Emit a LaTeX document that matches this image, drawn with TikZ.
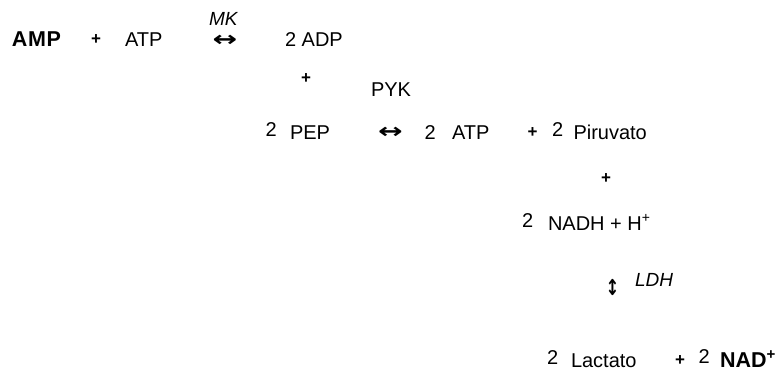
\documentclass[tikz,border=0pt]{standalone}
\usepackage{fontspec}
\setmainfont{Liberation Sans}
\newfontfamily\arrowfont{DejaVu Sans}
\begin{document}
\begin{tikzpicture}[x=1pt,y=-1pt,
  every node/.style={inner sep=0pt,outer sep=0pt},
  txt/.style={anchor=base west,font=\fontsize{20}{24}\selectfont},
  bold/.style={anchor=base west,font=\fontsize{21.5}{24}\selectfont\bfseries},
  enz/.style={anchor=base west,font=\fontsize{19}{22}\selectfont\itshape},
  coef/.style={anchor=base west,font=\fontsize{20}{24}\selectfont},
  plus/.style={anchor=center,font=\fontsize{17}{20}\selectfont\bfseries},
  harrow/.style={anchor=center,font=\fontsize{21}{24}\arrowfont\bfseries,xscale=1.4},
  varrow/.style={anchor=center,font=\fontsize{22}{24}\arrowfont\bfseries,xscale=0.75}]
\useasboundingbox (0,0) rectangle (784,375);
% adenylate kinase
\node[bold] (amp) at (12,46.5) {A\kern0.6pt M\kern0.6pt P};
\node[plus] (p1) at (96,39.5) {+};
\node[txt] (atp1) at (125,46.5) {ATP};
\node[enz] (mk) at (209,25) {MK};
\node[harrow] (a1) at (225,40.5) {↔};
\node[txt] (adp) at (285,46.5) {2 ADP};
\node[plus] (p2) at (306,79) {+};
% pyruvate kinase
\node[txt] (pyk) at (371,96.5) {PYK};
\node[coef] (c1) at (265.5,136) {2};
\node[txt] (pep) at (290,139) {PEP};
\node[harrow] (a2) at (390.5,133) {↔};
\node[coef] (c2) at (424.5,139) {2};
\node[txt] (atp2) at (452,139) {ATP};
\node[plus] (p3) at (532.5,133) {+};
\node[coef] (c3) at (552,136) {2};
\node[txt] (pir) at (573.5,139) {Piruvato};
\node[plus] (p4) at (606,178.5) {+};
\node[coef] (c4) at (522,227) {2};
\node[txt] (nadh) at (548,230) {NADH + H\textsuperscript{+}};
% lactate dehydrogenase
\node[varrow] (a3) at (612.5,287) {↕};
\node[enz] (ldh) at (635,286.5) {LDH};
\node[coef] (c5) at (547,364) {2};
\node[txt] (lac) at (571,367) {Lactato};
\node[plus] (p5) at (680,361) {+};
\node[coef] (c6) at (698.5,363) {2};
\node[bold] (nad) at (720,367) {NAD\textsuperscript{+}};
\end{tikzpicture}
\end{document}
